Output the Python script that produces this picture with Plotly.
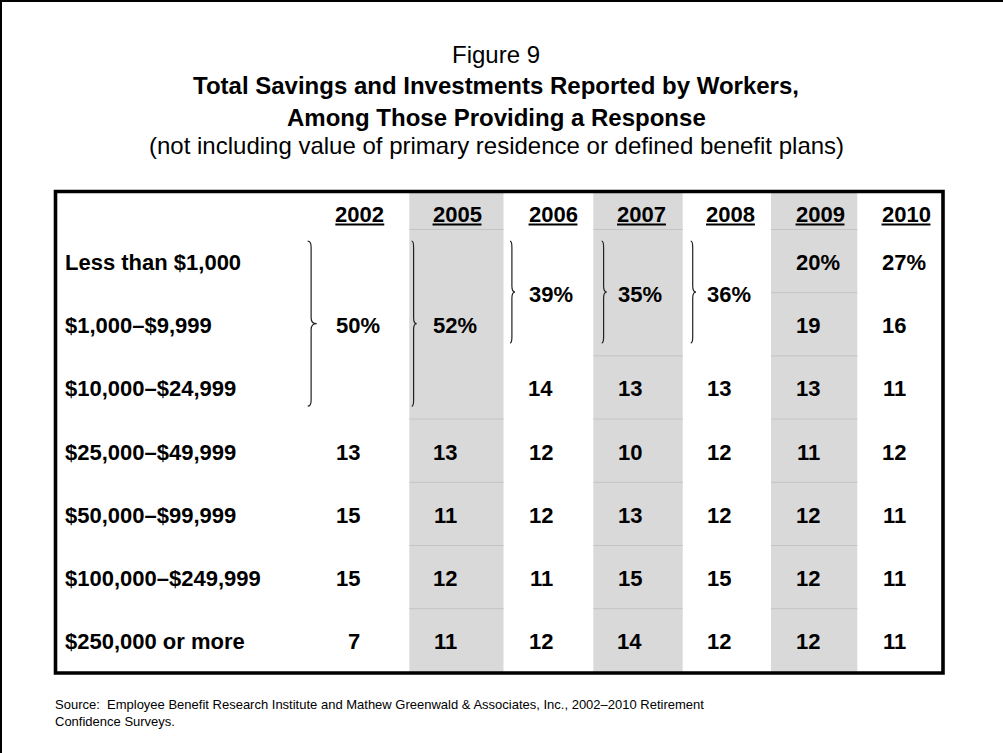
import plotly.graph_objects as go

# ---------------- data ----------------
years = ["2002", "2005", "2006", "2007", "2008", "2009", "2010"]
categories = [
    "Less than $1,000",
    "$1,000–$9,999",
    "$10,000–$24,999",
    "$25,000–$49,999",
    "$50,000–$99,999",
    "$100,000–$249,999",
    "$250,000 or more",
]
# None = cell merged with the value above (bracketed group)
v2002 = [50, None, None, 13, 15, 15, 7]
v2005 = [52, None, None, 13, 11, 12, 11]
v2006 = [39, None, 14, 12, 12, 11, 12]
v2007 = [35, None, 13, 10, 13, 15, 14]
v2008 = [36, None, 13, 12, 12, 15, 12]
v2009 = [20, 19, 13, 11, 12, 12, 12]
v2010 = [27, 16, 11, 12, 11, 11, 11]
values = [v2002, v2005, v2006, v2007, v2008, v2009, v2010]

fig_label = "Figure 9"
title_1 = "Total Savings and Investments Reported by Workers,"
title_2 = "Among Those Providing a Response"
subtitle = "(not including value of primary residence or defined benefit plans)"
source_1 = "Source:  Employee Benefit Research Institute and Mathew Greenwald & Associates, Inc., 2002–2010 Retirement"
source_2 = "Confidence Surveys."

# ---------------- layout / style constants ----------------
W, H = 1003, 753
FONT = "Liberation Sans, Arial, sans-serif"
FS = 22
DIGIT_W = 0.556 * FS
col_origin = [335.8, 433, 529, 617.5, 706.5, 796, 882]
header_dx = 24
gray_span = {1: (409.3, 503.5), 3: (593.3, 682.7), 5: (771, 857.3)}
brace_x = {0: (307.7, 316.7), 1: (411.7, 416.7), 2: (510, 515), 3: (601.7, 606.7), 4: (690.7, 696)}
row0_c, row_step = 262.5, 63.2
row_c = [row0_c + i * row_step for i in range(len(categories))]
header_y, underline_y = 214.5, 224.5
tbl = dict(x0=55.5, y0=191.5, x1=943, y1=673)
label_x = 65
GRAY = "#D9D9D9"
SEP = "#C4C4C4"

fig = go.Figure()
fig.add_trace(go.Scatter(x=[0], y=[0], mode="markers", marker=dict(opacity=0),
                         hoverinfo="skip", showlegend=False))

shapes, anns = [], []


def ann(x, y, text, size, xanchor="center", bold=False):
    anns.append(dict(x=x, y=y, xref="x", yref="y", text=f"<b>{text}</b>" if bold else text,
                     showarrow=False, xanchor=xanchor, yanchor="middle",
                     borderpad=0, borderwidth=0,
                     font=dict(family=FONT, size=size, color="black")))


# shaded columns
for ci, (gx0, gx1) in gray_span.items():
    shapes.append(dict(type="rect", xref="x", yref="y", x0=gx0, x1=gx1, y0=tbl["y0"], y1=tbl["y1"],
                       fillcolor=GRAY, line=dict(width=0), layer="below"))
    for ri, v in enumerate(values[ci]):
        if v is not None:
            yl = row_c[ri] - 33
            shapes.append(dict(type="line", xref="x", yref="y", x0=gx0, x1=gx1, y0=yl, y1=yl,
                               line=dict(color=SEP, width=1), layer="below"))

# outer frame (left and top edges visible)
shapes.append(dict(type="line", xref="x", yref="y", x0=1, x1=1, y0=0, y1=H, line=dict(color="black", width=2)))
shapes.append(dict(type="line", xref="x", yref="y", x0=0, x1=W, y0=1, y1=1, line=dict(color="black", width=2)))

# table border
shapes.append(dict(type="rect", xref="x", yref="y", **tbl, line=dict(color="black", width=3.6)))

# headers
for ci, yr in enumerate(years):
    cx = col_origin[ci] + header_dx
    ann(cx, header_y, yr, FS, bold=True)
    hw = 4 * DIGIT_W / 2
    shapes.append(dict(type="line", xref="x", yref="y", x0=cx - hw, x1=cx + hw,
                       y0=underline_y, y1=underline_y, line=dict(color="black", width=2.2)))

# row labels
for ri, cat in enumerate(categories):
    ann(label_x, row_c[ri], cat, FS, xanchor="left", bold=True)


def brace_path(x0, x1, y0, y1):
    xs = x0 + 0.38 * (x1 - x0)
    ym = (y0 + y1) / 2
    c = 6
    return (f"M {x0},{y0} Q {xs},{y0} {xs},{y0 + c} L {xs},{ym - c} "
            f"Q {xs},{ym} {x1},{ym} Q {xs},{ym} {xs},{ym + c} "
            f"L {xs},{y1 - c} Q {xs},{y1} {x0},{y1}")


# values
for ci, col in enumerate(values):
    first = True
    ri = 0
    while ri < len(col):
        v = col[ri]
        span = 1
        while ri + span < len(col) and col[ri + span] is None:
            span += 1
        rows = row_c[ri:ri + span]
        yc = sum(rows) / len(rows)
        if first:
            ann(col_origin[ci], yc, f"{v}%", FS, xanchor="left", bold=True)
            first = False
        else:
            ann(col_origin[ci] + 2 * DIGIT_W, yc, f"{v}", FS, xanchor="right", bold=True)
        if span > 1:
            bx0, bx1 = brace_x[ci]
            by0 = rows[0] - 21.3
            by1 = rows[-1] + 17.3
            shapes.append(dict(type="path", xref="x", yref="y", path=brace_path(bx0, bx1, by0, by1),
                               line=dict(color="#222222", width=1.2)))
        ri += span

# titles
tcx = 496
ann(tcx, 54, fig_label, 24)
ann(tcx, 85.3, title_1, 24, bold=True)
ann(tcx, 117.5, title_2, 24, bold=True)
ann(tcx, 145, subtitle, 24)

# source
ann(55, 704.7, source_1, 13, xanchor="left")
ann(55, 721, source_2, 13, xanchor="left")

fig.update_layout(
    width=W, height=H, margin=dict(l=0, r=0, t=0, b=0),
    paper_bgcolor="white", plot_bgcolor="white",
    xaxis=dict(range=[0, W], visible=False, fixedrange=True),
    yaxis=dict(range=[H, 0], visible=False, fixedrange=True),
    shapes=shapes, annotations=anns, showlegend=False,
)
fig.write_html(
    "out.html",
    config={"displayModeBar": False},
    post_script="document.body.style.margin='0px';document.body.style.overflow='hidden';",
)
